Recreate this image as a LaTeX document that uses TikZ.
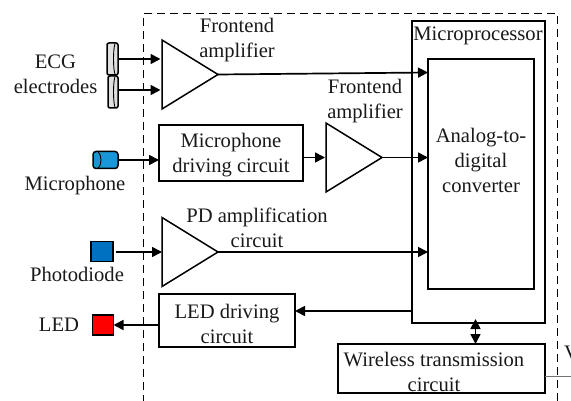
\documentclass[tikz,border=0pt]{standalone}
\usepackage{fontspec}
\setmainfont{Liberation Serif}
\usetikzlibrary{arrows.meta,shapes.geometric}
\definecolor{micblue}{RGB}{25,150,215}
\definecolor{pdblue}{RGB}{0,112,192}
\tikzset{
  x=1pt,y=-1pt,
  every node/.style={font=\fontsize{20.6}{25}\selectfont,inner sep=0pt,outer sep=0pt},
  lbl/.style={align=center,text=black!90},
  stroke/.style={line width=1.5pt,draw=black},
  blockbox/.style={stroke,rectangle,anchor=north west,align=center},
  amp/.style={stroke,isosceles triangle,isosceles triangle stretches,minimum height=56pt,minimum width=69pt,anchor=apex},
  conn/.style={line width=1.7pt,-{Triangle[length=10pt,width=10pt]}},
  frame/.style={line width=1.3pt,dash pattern=on 8pt off 5pt},
  square/.style={stroke,rectangle,anchor=north west}
}
\begin{document}
\begin{tikzpicture}
\useasboundingbox (0,0) rectangle (571,401);
\clip (0,0) rectangle (571,401);
% dashed frame
\draw[frame] (143.5,403) -- (143.5,13.5) -- (557.5,13.5) -- (557.5,403);
% blocks
\node[blockbox,minimum width=133pt,minimum height=302pt] (mcu) at (412,21) {};
\node[blockbox,minimum width=106pt,minimum height=230pt] (adc) at (428,59) {};
\node[blockbox,minimum width=144pt,minimum height=56pt] (micdrv) at (159,125) {};
\node[blockbox,minimum width=136pt,minimum height=53pt] (leddrv) at (159,294) {};
\node[blockbox,minimum width=207pt,minimum height=49pt] (wifi) at (338,344) {};
% amplifiers
\node[amp] (amp1) at (218,74.5) {};
\node[amp] (amp2) at (382,157.5) {};
\node[amp] (amp3) at (218,252) {};
% electrodes
\node[stroke,rectangle,rounded corners=2pt,fill=black!12,minimum width=11pt,minimum height=32pt] (el1) at (112.5,59) {};
\node[stroke,rectangle,rounded corners=2pt,fill=black!12,minimum width=10pt,minimum height=32pt] (el2) at (113,92) {};
\draw[line width=0.9pt] (115,43.5) .. controls (113,50) and (113,68) .. (115,74.5);
\draw[line width=0.9pt] (115,76.5) .. controls (113,83) and (113,101) .. (115,107.5);
% microphone
\node[stroke,rectangle,rounded corners=3pt,fill=micblue,minimum width=25pt,minimum height=17pt] (mic) at (105.5,160) {};
\draw[line width=0.9pt] (98,151.5) .. controls (102,155) and (102,165) .. (98,168.5);
% photodiode, LED
\node[square,fill=pdblue,minimum width=22pt,minimum height=20pt] (pd) at (91,241.5) {};
\node[square,fill=red,minimum width=21pt,minimum height=20pt] (led) at (92.5,315) {};
% connectors
\coordinate (a1a) at (160.5,59);
\coordinate (a1b) at (160.5,90);
\coordinate (e1) at (118,59);
\coordinate (e2) at (118,90);
\coordinate (m0) at (118,160);
\coordinate (m1) at (159,160);
\coordinate (p0) at (115.5,252);
\coordinate (p1) at (162,252);
\coordinate (l0) at (159,325);
\coordinate (d0) at (303,157.5);
\coordinate (d1) at (325,157.5);
\coordinate (t1) at (428,72.5);
\coordinate (t2) at (428,157.5);
\coordinate (t3) at (428,252);
\coordinate (u0) at (412,311);
\coordinate (u1) at (295,311);
\coordinate (b0) at (475.5,319);
\coordinate (b1) at (475.5,344);
\coordinate (w0) at (545,376);
\coordinate (w1) at (571,376);
\draw[conn] (e1) -- (a1a);
\draw[conn] (e2) -- (a1b);
\draw[conn] (m0) -- (m1);
\draw[conn] (p0) -- (p1);
\draw[conn] (l0) -- (led.east |- l0);
\draw[conn] (d0) -- (d1);
\draw[conn] (amp1.apex) -- (t1);
\draw[conn] (amp2.apex) -- (t2);
\draw[conn] (amp3.apex) -- (t3);
\draw[conn] (u0) -- (u1);
\draw[line width=1.7pt,{Triangle[length=10pt,width=10pt]}-{Triangle[length=10pt,width=10pt]}] (b0) -- (b1);
\draw[line width=0.8pt,draw=black!55] (w0) -- (w1);
% labels
\node[lbl] (tecg) at (55.5,74.5) {ECG\\electrodes};
\node[lbl] (tmic) at (75,185.5) {Microphone};
\node[lbl] (tpd) at (77,274.5) {Photodiode};
\node[lbl] (tled) at (59,324.5) {LED};
\node[lbl] (tf1) at (237,40.5) {Frontend\\amplifier};
\node[lbl] (tf2) at (365,101) {Frontend\\amplifier};
\node[lbl] (tpda) at (257,227.5) {PD amplification\\circuit};
\node[lbl] (tmcu) at (478,36) {Microprocessor};
\node[lbl] (tadc) at (481,160.5) {Analog-to-\\digital\\converter};
\node[lbl] (tmd) at (231,155.5) {Microphone\\driving circuit};
\node[lbl] (tld) at (227,323.5) {LED driving\\circuit};
\node[lbl] (twf) at (434,371.5) {Wireless transmission\\circuit};
\node[lbl,anchor=west] (tv) at (564,353) {V};
\end{tikzpicture}
\end{document}
